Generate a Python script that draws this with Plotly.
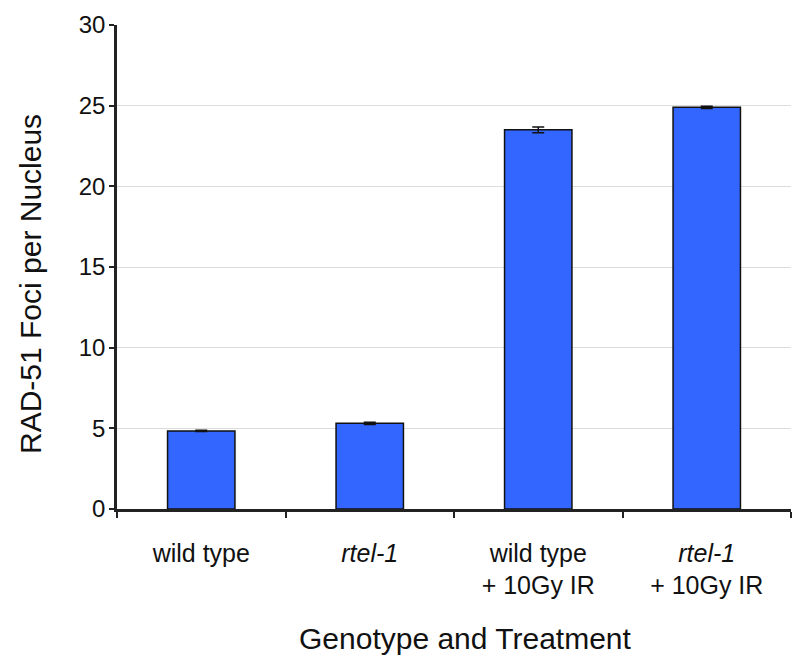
import plotly.graph_objects as go

# Mean RAD-51 foci per nucleus by genotype / treatment
categories = ["wild type", "<i>rtel-1</i>", "wild type<br>+ 10Gy IR", "<i>rtel-1</i><br>+ 10Gy IR"]
foci_mean = [4.84, 5.31, 23.5, 24.9]
foci_err = [0.04, 0.07, 0.18, 0.07]

y_ticks = [0, 5, 10, 15, 20, 25, 30]

FONT = "Liberation Sans, Arial, sans-serif"
W, H = 794, 659
ML, MR, MT, MB = 117, 3, 25, 150
PW, PH = W - ML - MR, H - MT - MB

fig = go.Figure()
fig.add_trace(go.Bar(
    x=categories,
    y=foci_mean,
    width=0.4,
    marker=dict(color="#3366FF", line=dict(color="#111111", width=1.5)),
    error_y=dict(type="data", array=foci_err, visible=True,
                 color="#111111", thickness=1.5, width=6),
))

fig.update_layout(
    width=W, height=H,
    margin=dict(l=ML, r=MR, t=MT, b=MB),
    paper_bgcolor="white", plot_bgcolor="white",
    font=dict(family=FONT, color="#111111"),
    showlegend=False,
    bargap=0.6,
)

fig.update_xaxes(
    type="category",
    tickson="boundaries",
    ticks="outside", ticklen=6, tickwidth=2, tickcolor="#222222",
    showline=True, linecolor="#222222", linewidth=2.5,
    tickfont=dict(size=25, family=FONT),
    ticklabelstandoff=20,
    showgrid=False,
)

fig.update_yaxes(
    range=[0, 30],
    tickvals=y_ticks,
    ticks="outside", ticklen=5, tickwidth=2, tickcolor="#222222",
    showline=True, linecolor="#222222", linewidth=2.5,
    tickfont=dict(size=24, family=FONT),
    ticklabelstandoff=-1,
    showgrid=True, gridcolor="#DCDCDC", gridwidth=1,
    zeroline=False,
)

# Axis titles placed as annotations (paper coordinates)
fig.add_annotation(
    text="RAD-51 Foci per Nucleus", textangle=-90,
    xref="paper", yref="paper",
    x=(30 - ML) / PW, y=(H - MB - 284) / PH,
    xanchor="center", yanchor="middle", showarrow=False,
    font=dict(size=30, family=FONT, color="#111111"),
)
fig.add_annotation(
    text="Genotype and Treatment",
    xref="paper", yref="paper",
    x=(466 - ML) / PW, y=(H - MB - 638) / PH,
    xanchor="center", yanchor="middle", showarrow=False,
    font=dict(size=30, family=FONT, color="#111111"),
)

fig.write_html("out.html")
